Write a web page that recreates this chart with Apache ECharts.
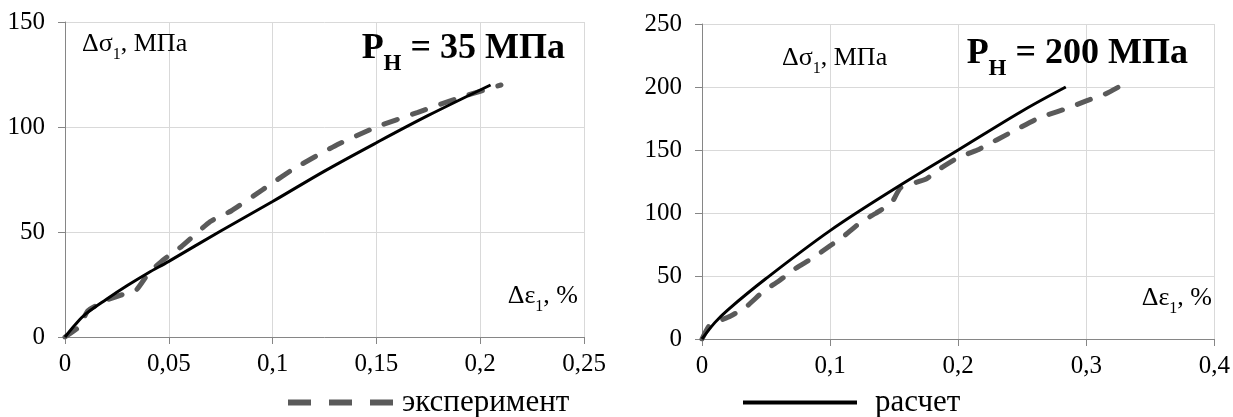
<!DOCTYPE html>
<html><head><meta charset="utf-8">
<script src="https://cdn.jsdelivr.net/npm/echarts@6/dist/echarts.min.js"></script>
<style>html,body{margin:0;padding:0;background:#fff}#c{width:1233px;height:417px}</style>
</head><body><div id="c"></div>
<script>
// ---- data ----
const expLeftX  = [0, 0.007, 0.011, 0.02, 0.027, 0.034, 0.04, 0.047, 0.056, 0.07, 0.08, 0.095, 0.11, 0.13, 0.15, 0.17, 0.19, 0.2, 0.21];
const expLeftY  = [0, 5, 12.5, 17.5, 20, 22, 30, 36.5, 43, 55, 60, 70, 80, 91, 100, 107, 114, 117, 120];
const calcLeftX = [0, 0.005, 0.01, 0.02, 0.03, 0.04, 0.05, 0.075, 0.1, 0.125, 0.15, 0.175, 0.205];
const calcLeftY = [0, 6, 11, 18, 24.5, 30.5, 36, 50.5, 64.5, 79, 92.5, 105.5, 120];
const expRightX  = [0, 0.006, 0.022, 0.035, 0.048, 0.06, 0.073, 0.086, 0.1, 0.11, 0.123, 0.136, 0.148, 0.155, 0.175, 0.187, 0.2, 0.215, 0.23, 0.245, 0.26, 0.27, 0.285, 0.3, 0.314, 0.327];
const expRightY  = [0, 11, 18, 26, 38, 46, 56, 64, 74, 81, 92, 100, 108, 120, 127, 136, 144, 150, 158, 166, 174, 178, 183, 189, 194, 201];
const calcRightX = [0, 0.01, 0.02, 0.05, 0.1, 0.15, 0.2, 0.25, 0.284];
const calcRightY = [0, 13, 23, 48, 86, 119, 150, 181, 200];
const seriesNames = ['эксперимент', 'расчет'];
const titleLeft = '35';
const titleRight = '200';
const axisLeftX = {min: 0, max: 0.25, interval: 0.05};
const axisLeftY = {min: 0, max: 150, interval: 50};
const axisRightX = {min: 0, max: 0.4, interval: 0.1};
const axisRightY = {min: 0, max: 250, interval: 50};

const FONT = 'Liberation Serif';
const pairs = (xs, ys) => xs.map((x, i) => [x, ys[i]]);
const fmt = v => String(+v.toFixed(4)).replace('.', ',');

const xAxisBase = (ax, gi) => Object.assign({
  type: 'value', gridIndex: gi,
  axisLine: {show: true, lineStyle: {color: '#868686', width: 1}},
  axisTick: {show: true, length: 7, lineStyle: {color: '#868686'}},
  splitLine: {show: true, lineStyle: {color: '#d9d9d9', width: 1}},
  axisLabel: {fontFamily: FONT, fontSize: 25, color: '#000', margin: 15, formatter: fmt}
}, ax);
const yAxisBase = (ax, gi) => Object.assign({
  type: 'value', gridIndex: gi,
  axisLine: {show: true, lineStyle: {color: '#868686', width: 1}},
  axisTick: {show: true, length: 7, lineStyle: {color: '#868686'}},
  splitLine: {show: true, lineStyle: {color: '#d9d9d9', width: 1}},
  axisLabel: {fontFamily: FONT, fontSize: 25, color: '#000', margin: 20, formatter: fmt}
}, ax);

const expStyle = {color: '#5a5a5a', width: 5, type: [14, 16], cap: 'round'};
const calcStyle = {color: '#000', width: 3};

const bigRich = {
  n: {fontFamily: FONT, fontSize: 36, fontWeight: 'bold', color: '#000', lineHeight: 36, verticalAlign: 'top'},
  s: {fontFamily: FONT, fontSize: 23, fontWeight: 'bold', color: '#000', lineHeight: 23, verticalAlign: 'top', padding: [22, 0, 0, 0]}
};
const smallRich = {
  n: {fontFamily: FONT, fontSize: 26, fontWeight: 'normal', color: '#000', lineHeight: 26, verticalAlign: 'top'},
  s: {fontFamily: FONT, fontSize: 16, fontWeight: 'normal', color: '#000', lineHeight: 16, verticalAlign: 'top', padding: [16, 0, 0, 0]}
};
const mkTitle = (text, pos, rich) => Object.assign({text, padding: 0, textStyle: {fontWeight: 'normal', rich}}, pos);

const option = {
  backgroundColor: '#fff',
  animation: false,
  title: [
    mkTitle('{n|Р}{s|Н}{n| = ' + titleLeft + ' МПа}', {right: 668, top: 31}, bigRich),
    mkTitle('{n|Р}{s|Н}{n| = ' + titleRight + ' МПа}', {right: 45, top: 36}, bigRich),
    mkTitle('{n|Δσ}{s|1}{n|, МПа}', {left: 82, top: 31}, smallRich),
    mkTitle('{n|Δσ}{s|1}{n|, МПа}', {left: 782, top: 45}, smallRich),
    mkTitle('{n|Δε}{s|1}{n|, %}', {right: 655, top: 283}, smallRich),
    mkTitle('{n|Δε}{s|1}{n|, %}', {right: 21, top: 285}, smallRich)
  ],
  legend: [
    {data: [{name: seriesNames[0], icon: 'path://M0,0h23v6h-23zM41,0h23v6h-23zM82,0h23v6h-23z'}],
     left: 288, top: 387, padding: 0, itemWidth: 105, itemHeight: 6, selectedMode: false,
     textStyle: {fontFamily: FONT, fontSize: 31, color: '#000', padding: [0, 0, 0, 4]}},
    {data: [{name: seriesNames[1], icon: 'rect'}],
     left: 743, top: 387, padding: 0, itemWidth: 114, itemHeight: 4, selectedMode: false,
     textStyle: {fontFamily: FONT, fontSize: 31, color: '#000', padding: [0, 0, 0, 13]}}
  ],
  grid: [
    {left: 65, right: 649, top: 22, bottom: 80},
    {left: 702, right: 17, top: 24, bottom: 78}
  ],
  xAxis: [xAxisBase(axisLeftX, 0), xAxisBase(axisRightX, 1)],
  yAxis: [yAxisBase(axisLeftY, 0), yAxisBase(axisRightY, 1)],
  series: [
    {name: seriesNames[0], type: 'line', xAxisIndex: 0, yAxisIndex: 0, data: pairs(expLeftX, expLeftY),
     symbol: 'none', smooth: 0.15, color: '#5a5a5a', lineStyle: expStyle, z: 2},
    {name: seriesNames[1], type: 'line', xAxisIndex: 0, yAxisIndex: 0, data: pairs(calcLeftX, calcLeftY),
     symbol: 'none', smooth: 0.35, color: '#000', lineStyle: calcStyle, z: 3},
    {name: seriesNames[0], type: 'line', xAxisIndex: 1, yAxisIndex: 1, data: pairs(expRightX, expRightY),
     symbol: 'none', smooth: 0.15, color: '#5a5a5a', lineStyle: expStyle, z: 2},
    {name: seriesNames[1], type: 'line', xAxisIndex: 1, yAxisIndex: 1, data: pairs(calcRightX, calcRightY),
     symbol: 'none', smooth: 0.35, color: '#000', lineStyle: calcStyle, z: 3}
  ]
};
const chart = echarts.init(document.getElementById('c'), null, {renderer: 'canvas'});
chart.setOption(option);
</script>
</body></html>
